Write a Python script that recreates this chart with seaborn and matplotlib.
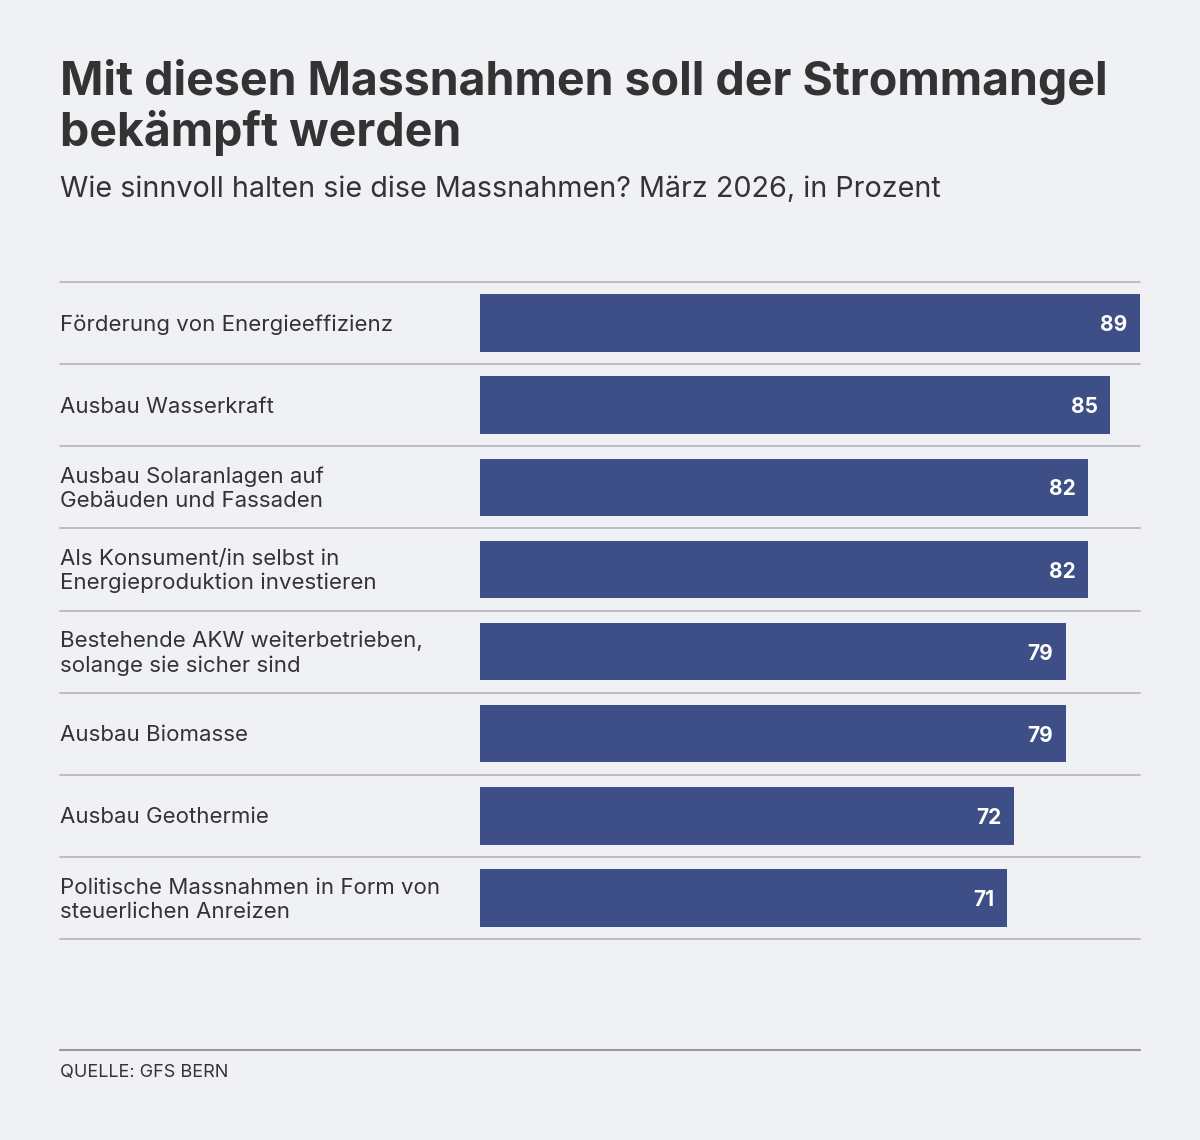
import matplotlib
matplotlib.use("Agg")
import matplotlib.pyplot as plt
import seaborn as sns
import pandas as pd

categories = [
    "Förderung von Energieeffizienz",
    "Ausbau Wasserkraft",
    "Ausbau Solaranlagen auf\nGebäuden und Fassaden",
    "Als Konsument/in selbst in\nEnergieproduktion investieren",
    "Bestehende AKW weiterbetrieben,\nsolange sie sicher sind",
    "Ausbau Biomasse",
    "Ausbau Geothermie",
    "Politische Massnahmen in Form von\nsteuerlichen Anreizen",
]
values = [89, 85, 82, 82, 79, 79, 72, 71]

title_lines = ["Mit diesen Massnahmen soll der Strommangel", "bekämpft werden"]
subtitle = "Wie sinnvoll halten sie dise Massnahmen? März 2026, in Prozent"
source = "QUELLE: GFS BERN"

BG = "#f0f1f5"
BAR = "#3d4f86"
TXT = "#333333"

sns.set_theme(style="white")
plt.rcParams["font.family"] = ["Inter", "DejaVu Sans"]

df = pd.DataFrame({"cat": categories, "val": values})

W, H = 1200, 1140
fig = plt.figure(figsize=(W / 100, H / 100), dpi=100, facecolor=BG)

ax_l, ax_r, ax_t, ax_b = 480, 1140, 282, 939
ax = fig.add_axes([ax_l / W, 1 - ax_b / H, (ax_r - ax_l) / W, (ax_b - ax_t) / H])
ax.set_facecolor(BG)

sns.barplot(data=df, x="val", y="cat", orient="h", color=BAR, width=0.7,
            saturation=1, ax=ax, edgecolor="none")
ax.set_xlim(0, 89)
ax.set_ylim(len(categories) - 0.5, -0.5)
for s in ax.spines.values():
    s.set_visible(False)
ax.set_xticks([])
ax.set_yticks([])
ax.set_xlabel("")
ax.set_ylabel("")

ext = (ax_l - 60) / (ax_r - ax_l)
for i in range(len(categories) + 1):
    ax.plot([-ext, 1], [i - 0.5, i - 0.5], transform=ax.get_yaxis_transform(),
            color="#b4b4b8", lw=1.2, clip_on=False, zorder=0)

for i, (c, v) in enumerate(zip(categories, values)):
    ax.annotate(str(v), xy=(v, i), xytext=(-9, -1.5), textcoords="offset points",
                ha="right", va="center", color="white", fontsize=15,
                fontweight="bold")
    ax.annotate(c, xy=(-ext, i), xycoords=ax.get_yaxis_transform(),
                xytext=(0, -1.2), textcoords="offset points", ha="left",
                va="center", fontsize=16, color=TXT, linespacing=1.25,
                annotation_clip=False)

over = fig.add_axes([0, 0, 1, 1], facecolor="none")
over.set_axis_off()
over.set_xlim(0, W)
over.set_ylim(H, 0)

over.text(60, 95, title_lines[0], ha="left", va="baseline", fontsize=33.5,
          fontweight="bold", color=TXT)
over.text(60, 146, title_lines[1], ha="left", va="baseline", fontsize=33.5,
          fontweight="bold", color=TXT)
over.text(60, 190, subtitle, ha="left", va="center", fontsize=20.7, color=TXT)

over.plot([60, 1140], [1050, 1050], color="#999999", lw=1.5)
over.text(60, 1073, source, ha="left", va="center", fontsize=13, color=TXT)

fig.savefig("out.png", dpi=100, facecolor=BG)
